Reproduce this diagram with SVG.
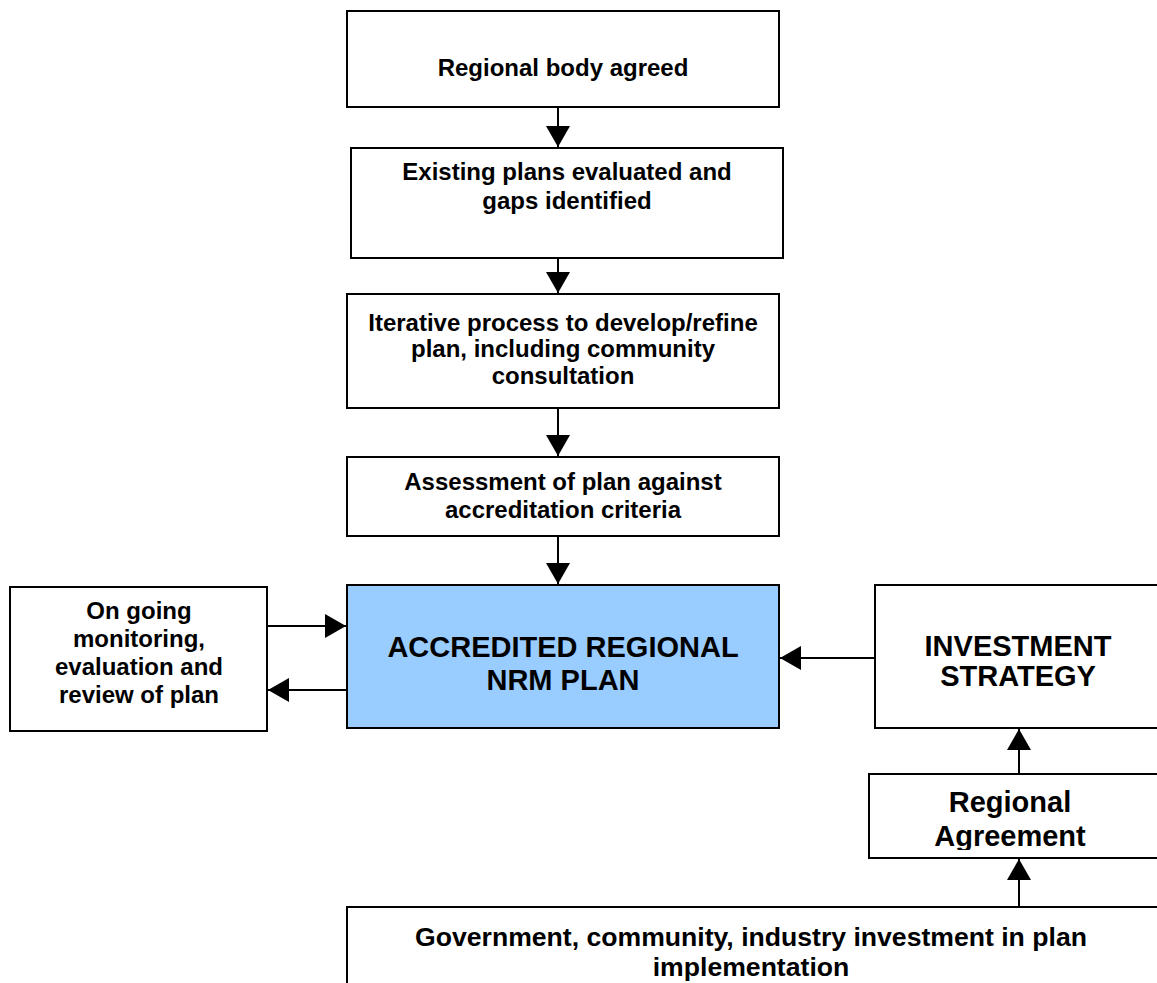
<svg xmlns="http://www.w3.org/2000/svg" width="1157" height="983" viewBox="0 0 1157 983">
<style>
.box{fill:#ffffff;stroke:#000000;stroke-width:2}
.main{fill:#99CCFF;stroke:#000000;stroke-width:2}
.t{font-family:"Liberation Sans",Arial,sans-serif;font-weight:bold;fill:#000000;text-anchor:middle}
.s{font-size:24px}
.b{font-size:29px}
.conn{stroke:#000000;stroke-width:2;fill:none;marker-end:url(#ah)}
</style>
<defs>
<marker id="ah" viewBox="0 0 21 24" refX="21" refY="12" markerWidth="21" markerHeight="24" markerUnits="userSpaceOnUse" orient="auto">
<path d="M0,0 L21,12 L0,24 Z" fill="#000000"/>
</marker>
<clipPath id="raclip"><rect x="870" y="775" width="290" height="75"/></clipPath>
</defs>
<rect width="1157" height="983" fill="#ffffff"/>
<g id="connectors">
<line class="conn" x1="558" y1="107" x2="558" y2="147"/>
<line class="conn" x1="558" y1="258" x2="558" y2="293"/>
<line class="conn" x1="558" y1="408" x2="558" y2="456"/>
<line class="conn" x1="558" y1="536" x2="558" y2="584"/>
<line class="conn" x1="267" y1="626" x2="346" y2="626"/>
<line class="conn" x1="347" y1="690" x2="268" y2="690"/>
<line class="conn" x1="875" y1="658" x2="780" y2="658"/>
<line class="conn" x1="1019" y1="774" x2="1019" y2="729"/>
<line class="conn" x1="1019" y1="907" x2="1019" y2="859"/>
</g>
<g id="n1">
<rect class="box" x="347" y="11" width="432" height="96"/>
<text class="t s" x="563" y="76">Regional body agreed</text>
</g>
<g id="n2">
<rect class="box" x="351" y="148" width="432" height="110"/>
<text class="t s" x="567" y="180">Existing plans evaluated and</text>
<text class="t s" x="567" y="209">gaps identified</text>
</g>
<g id="n3">
<rect class="box" x="347" y="294" width="432" height="114"/>
<text class="t s" x="563" y="331">Iterative process to develop/refine</text>
<text class="t s" x="563" y="357">plan, including community</text>
<text class="t s" x="563" y="384">consultation</text>
</g>
<g id="n4">
<rect class="box" x="347" y="457" width="432" height="79"/>
<text class="t s" x="563" y="490">Assessment of plan against</text>
<text class="t s" x="563" y="518">accreditation criteria</text>
</g>
<g id="n5">
<rect class="main" x="347" y="585" width="432" height="143"/>
<text class="t b" x="563" y="657">ACCREDITED REGIONAL</text>
<text class="t b" x="563" y="690">NRM PLAN</text>
</g>
<g id="n6">
<rect class="box" x="10" y="587" width="257" height="144"/>
<text class="t s" x="139" y="619">On going</text>
<text class="t s" x="139" y="647">monitoring,</text>
<text class="t s" x="139" y="675">evaluation and</text>
<text class="t s" x="139" y="703">review of plan</text>
</g>
<g id="n7">
<rect class="box" x="875" y="585" width="285" height="143"/>
<text class="t b" x="1018" y="656">INVESTMENT</text>
<text class="t b" x="1018" y="686">STRATEGY</text>
</g>
<g id="n8">
<rect class="box" x="869" y="774" width="291" height="84"/>
<g clip-path="url(#raclip)">
<text class="t b" x="1010" y="812">Regional</text>
<text class="t b" x="1010" y="846">Agreement</text>
</g>
</g>
<g id="n9">
<rect class="box" x="347" y="907" width="813" height="90"/>
<text class="t" style="font-size:26.6px" x="751" y="946">Government, community, industry investment in plan</text>
<text class="t" style="font-size:26.6px" x="751" y="976">implementation</text>
</g>
</svg>
